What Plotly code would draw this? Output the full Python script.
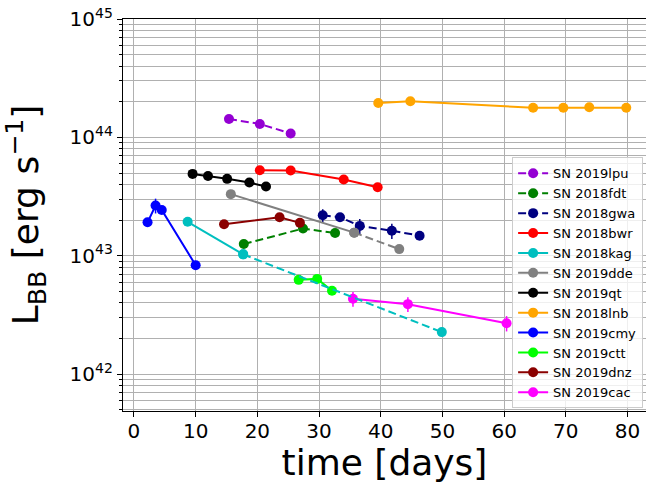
import numpy as np
import plotly.graph_objects as go

# ---------------- data ----------------
names = ["SN 2019lpu", "SN 2018fdt", "SN 2018gwa", "SN 2018bwr", "SN 2018kag", "SN 2019dde",
         "SN 2019qt", "SN 2018lnb", "SN 2019cmy", "SN 2019ctt", "SN 2019dnz", "SN 2019cac"]

t_lpu = [15.4, 20.4, 25.4]
L_lpu = [1.43e44, 1.30e44, 1.08e44]

t_fdt = [17.8, 27.4, 32.6]
L_fdt = [1.26e43, 1.70e43, 1.56e43]

t_gwa = [30.6, 33.4, 36.6, 41.8, 46.3]
L_gwa = [2.20e43, 2.12e43, 1.79e43, 1.63e43, 1.48e43]
e_gwa = [0.28e43, 0.0, 0.26e43, 0.24e43, 0.0]

t_bwr = [20.4, 25.4, 34.0, 39.5]
L_bwr = [5.28e43, 5.25e43, 4.41e43, 3.80e43]

t_kag = [8.7, 17.7, 49.9]
L_kag = [1.94e43, 1.03e43, 2.27e42]

t_dde = [15.7, 35.7, 43.0]
L_dde = [3.32e43, 1.57e43, 1.14e43]

t_qt = [9.5, 12.0, 15.1, 18.7, 21.4]
L_qt = [4.92e43, 4.73e43, 4.47e43, 4.16e43, 3.85e43]

t_lnb = [39.6, 44.8, 64.7, 69.6, 73.8, 79.8]
L_lnb = [1.95e44, 2.02e44, 1.78e44, 1.78e44, 1.80e44, 1.78e44]

t_cmy = [2.2, 3.5, 4.5, 10.0]
L_cmy = [1.92e43, 2.66e43, 2.44e43, 8.34e42]
e_cmy = [0.0, 0.38e43, 0.0, 0.0]

t_ctt = [26.7, 29.7, 32.1]
L_ctt = [6.27e42, 6.39e42, 5.07e42]

t_dnz = [14.6, 23.6, 26.9]
L_dnz = [1.85e43, 2.12e43, 1.90e43]

t_cac = [35.5, 44.4, 60.4]
L_cac = [4.34e42, 3.91e42, 2.70e42]
e_cac = [0.62e42, 0.56e42, 0.40e42]

y_tick_vals = [1e42, 1e43, 1e44, 1e45]
y_tick_text = ["10<sup>42</sup>", "10<sup>43</sup>", "10<sup>44</sup>", "10<sup>45</sup>"]
x_tick_vals = [0, 10, 20, 30, 40, 50, 60, 70, 80]

# ---------------- styling ----------------
series = [
    (names[0], t_lpu, L_lpu, None, "#9400D3", "dash", None),
    (names[1], t_fdt, L_fdt, None, "#008000", "dash", None),
    (names[2], t_gwa, L_gwa, e_gwa, "#000080", "dash", None),
    (names[3], t_bwr, L_bwr, None, "#FF0000", "solid", None),
    (names[4], t_kag, L_kag, None, "#00BFBF", "solid", 2),
    (names[5], t_dde, L_dde, None, "#808080", "solid", 2),
    (names[6], t_qt, L_qt, None, "#000000", "solid", None),
    (names[7], t_lnb, L_lnb, None, "#FFA500", "solid", None),
    (names[8], t_cmy, L_cmy, e_cmy, "#0000FF", "solid", None),
    (names[9], t_ctt, L_ctt, None, "#00FF00", "solid", None),
    (names[10], t_dnz, L_dnz, None, "#8B0000", "solid", None),
    (names[11], t_cac, L_cac, e_cac, "#FF00FF", "solid", None),
]

DASH = "8px,4px"
fig = go.Figure()
extra = []
for name, t, L, err, color, dash, nsolid in series:
    err_kw = {}
    if err is not None:
        err_kw = dict(error_y=dict(type="data", array=err, visible=True, color=color,
                                   thickness=1.5, width=0))
    if nsolid is None:
        xs, ys = t, L
    else:
        xs, ys = t[:nsolid], L[:nsolid]
        extra.append(go.Scatter(x=t[nsolid - 1:], y=L[nsolid - 1:], mode="lines+markers",
                                line=dict(color=color, width=2, dash=DASH),
                                marker=dict(color=color, size=10),
                                showlegend=False, hoverinfo="skip"))
    fig.add_trace(go.Scatter(
        x=xs, y=ys, name=name, mode="lines+markers",
        line=dict(color=color, width=2, dash=(DASH if dash == "dash" else "solid")),
        marker=dict(color=color, size=10),
        **err_kw))
for tr in extra:
    fig.add_trace(tr)

minor_vals = [m * 10.0 ** e for e in range(41, 45) for m in range(2, 10)]

fig.update_layout(
    width=646, height=483, autosize=False,
    margin=dict(l=123, r=0, t=19, b=72, pad=0),
    paper_bgcolor="white", plot_bgcolor="white",
    font=dict(family="DejaVu Sans", color="black"),
    legend=dict(x=0.744, y=0.647, xanchor="left", yanchor="top",
                bgcolor="rgba(255,255,255,0.8)", bordercolor="#cccccc", borderwidth=1,
                font=dict(size=13, family="DejaVu Sans"), tracegroupgap=0,
                traceorder="normal"),
    xaxis=dict(range=[-1.78, 83.0], tickmode="array", tickvals=x_tick_vals,
               ticks="outside", ticklen=5, tickwidth=1, tickcolor="black",
               ticklabelstandoff=-3,
               showline=True, linecolor="black", linewidth=1.2, mirror=True,
               showgrid=True, gridcolor="#b0b0b0", gridwidth=1, zeroline=False,
               tickfont=dict(size=20), automargin=False,
               title=dict(text="time [days]", font=dict(size=36), standoff=9)),
    yaxis=dict(type="log", range=[41.69, 45.0], tickmode="array",
               tickvals=y_tick_vals, ticktext=y_tick_text,
               ticks="outside", ticklen=5, tickwidth=1, tickcolor="black",
               showline=True, linecolor="black", linewidth=1.2, mirror=False,
               showgrid=True, gridcolor="#b0b0b0", gridwidth=1, zeroline=False,
               tickfont=dict(size=20), automargin=False,
               minor=dict(tickmode="array", tickvals=minor_vals, ticks="outside",
                          ticklen=3, tickwidth=1, tickcolor="black",
                          showgrid=True, gridcolor="#b0b0b0", gridwidth=1),
               title=dict(text="L<sub>BB</sub> [erg s<sup>\u22121</sup>]",
                          font=dict(size=36), standoff=25)),
)

fig.write_html("out.html")
